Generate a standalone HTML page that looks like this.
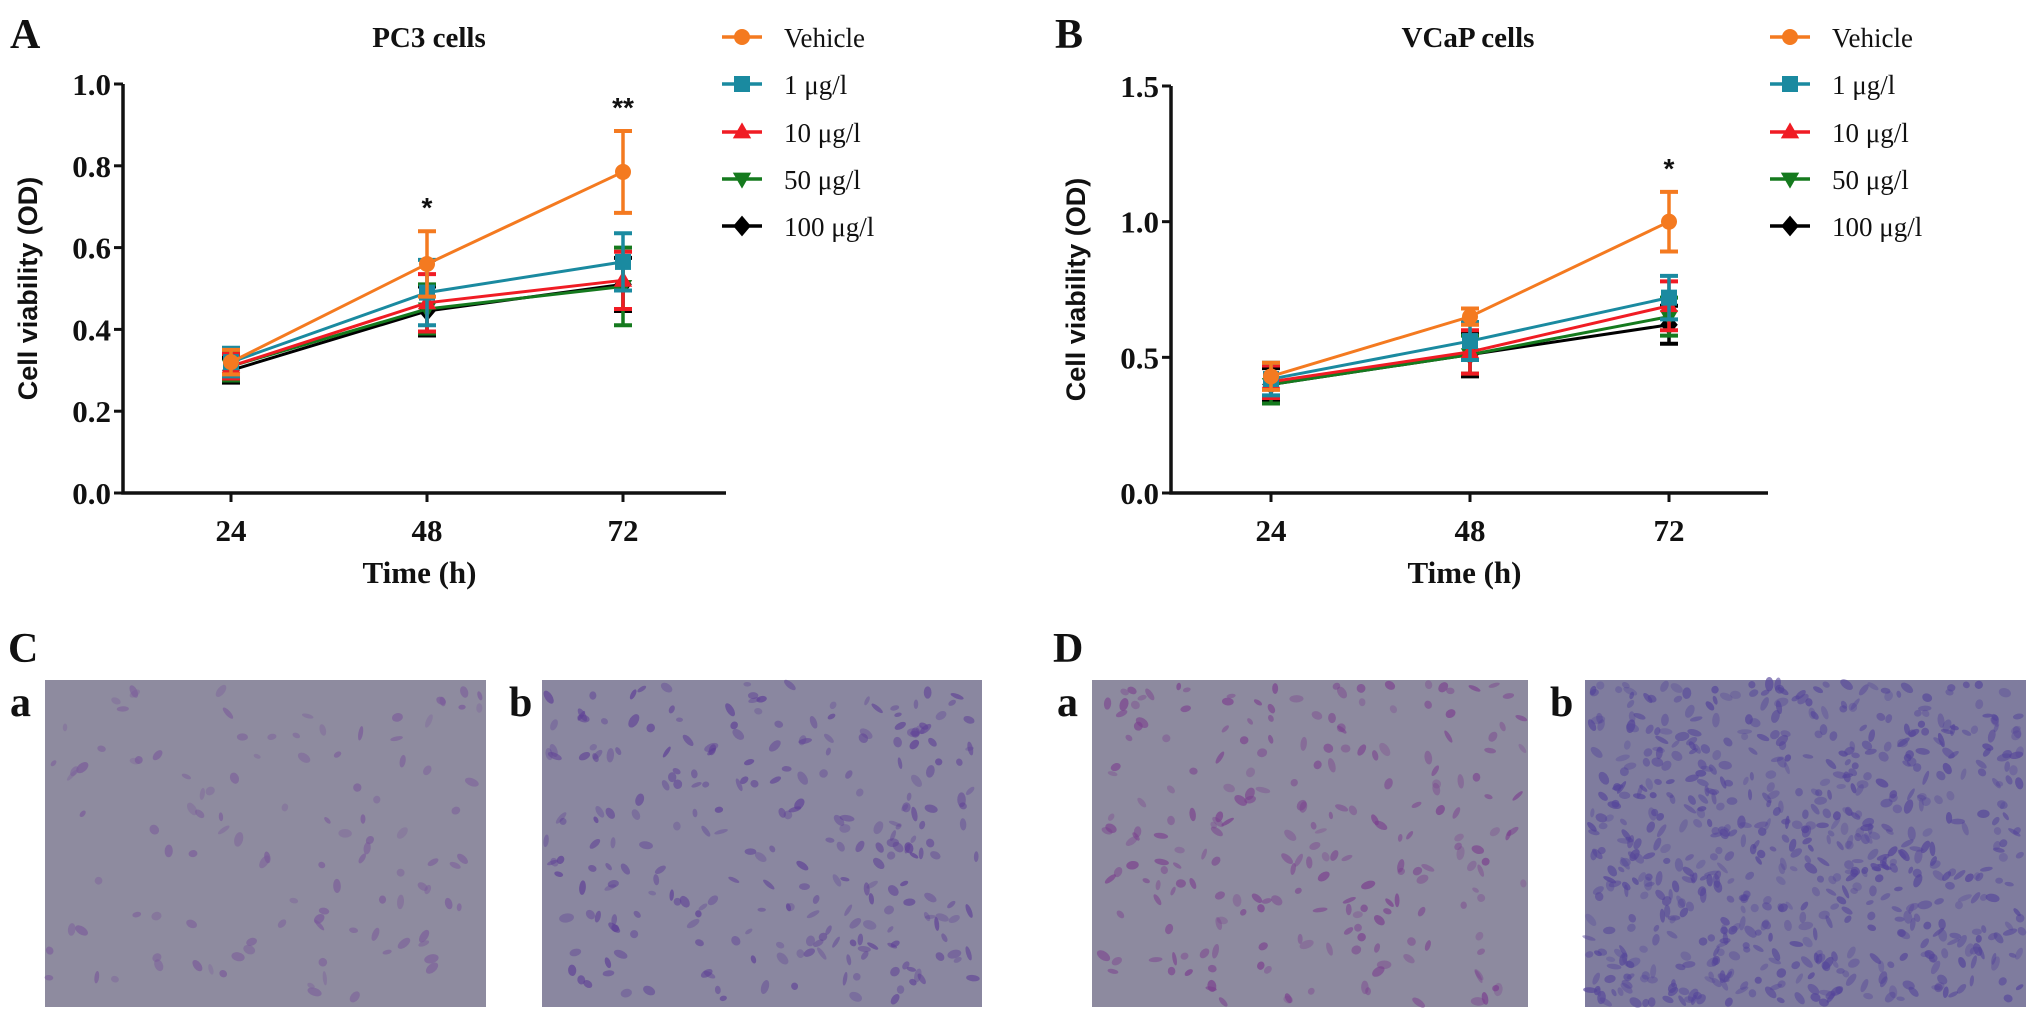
<!DOCTYPE html>
<html><head><meta charset="utf-8">
<style>
html,body{margin:0;padding:0;background:#fff;}
svg{display:block;}
text{font-family:"Liberation Serif",serif;font-weight:bold;fill:#111;}
</style></head>
<body>
<svg id="fig" width="2033" height="1015" viewBox="0 0 2033 1015" xmlns="http://www.w3.org/2000/svg">
<g id="chartA"></g>
<g id="chartB"></g>
<g id="micro"></g>
</svg>
<script>
const categories = [24, 48, 72];
const seriesNames = ["Vehicle", "1 μg/l", "10 μg/l", "50 μg/l", "100 μg/l"];
const pc3Means = [
  [0.32, 0.56, 0.785],
  [0.32, 0.49, 0.565],
  [0.31, 0.465, 0.52],
  [0.31, 0.45, 0.505],
  [0.30, 0.445, 0.51]
];
const pc3Err = [
  [0.03, 0.08, 0.10],
  [0.035, 0.08, 0.07],
  [0.03, 0.07, 0.07],
  [0.035, 0.06, 0.095],
  [0.03, 0.06, 0.065]
];
const vcapMeans = [
  [0.43, 0.65, 1.0],
  [0.42, 0.56, 0.72],
  [0.41, 0.52, 0.69],
  [0.40, 0.51, 0.65],
  [0.40, 0.51, 0.62]
];
const vcapErr = [
  [0.05, 0.03, 0.11],
  [0.06, 0.07, 0.08],
  [0.06, 0.08, 0.09],
  [0.07, 0.07, 0.07],
  [0.06, 0.08, 0.07]
];
const pc3Ticks = ["0.0","0.2","0.4","0.6","0.8","1.0"];
const vcapTicks = ["0.0","0.5","1.0","1.5"];
const pc3Stars = [null, "*", "**"];
const vcapStars = [null, null, "*"];

const NS = "http://www.w3.org/2000/svg";
const colors = ["#f47a20", "#1a8aa0", "#f01c24", "#157a1e", "#000000"];
const shapes = ["circle", "square", "tri", "tridown", "diamond"];

function mk(parent, tag, attrs, txt){
  const e = document.createElementNS(NS, tag);
  for (const k in attrs) e.setAttribute(k, attrs[k]);
  if (txt !== undefined) e.textContent = txt;
  parent.appendChild(e);
  return e;
}
function marker(g, shape, cx, cy, r, col){
  let e;
  if (shape === "circle") e = mk(g, "circle", {cx:cx, cy:cy, r:r, fill:col});
  else if (shape === "square") e = mk(g, "rect", {x:cx-r, y:cy-r, width:2*r, height:2*r, fill:col});
  else if (shape === "tri") e = mk(g, "polygon", {points:`${cx},${cy-r*1.2} ${cx-r*1.15},${cy+r*0.8} ${cx+r*1.15},${cy+r*0.8}`, fill:col});
  else if (shape === "tridown") e = mk(g, "polygon", {points:`${cx},${cy+r*1.2} ${cx-r*1.15},${cy-r*0.8} ${cx+r*1.15},${cy-r*0.8}`, fill:col});
  else e = mk(g, "polygon", {points:`${cx},${cy-r*1.3} ${cx+r*1.1},${cy} ${cx},${cy+r*1.3} ${cx-r*1.1},${cy}`, fill:col});
  return e;
}

function drawChart(g, cfg){
  const yScale = v => cfg.y0 - (v / cfg.ymax) * (cfg.y0 - cfg.y1);
  const xScale = i => cfg.xs[0] + i * (cfg.xs[1] - cfg.xs[0]);
  let t = mk(g, "text", {x:cfg.letterX, y:48, "font-size":42}, cfg.letter);
  
  
  t = mk(g, "text", {x:cfg.titleX, y:47, "font-size":29, "text-anchor":"middle"}, cfg.title);
  
  
  const ax = mk(g, "path", {d:`M${cfg.ax} ${cfg.y1} V${cfg.y0} H${cfg.xEnd}`, stroke:"#111", "stroke-width":3.5, fill:"none"});
  
  
  cfg.ticks.forEach((lab, i) => {
    const v = i * cfg.ymax / (cfg.ticks.length - 1);
    const y = yScale(v);
    mk(g, "line", {x1:cfg.ax-9, x2:cfg.ax, y1:y, y2:y, stroke:"#111", "stroke-width":3});
    const tl = mk(g, "text", {x:cfg.ax-12, y:y+11, "font-size":31, "text-anchor":"end"}, lab);
    
    
  });
  categories.forEach((c, i) => {
    const x = xScale(i);
    mk(g, "line", {x1:x, x2:x, y1:cfg.y0, y2:cfg.y0+9, stroke:"#111", "stroke-width":3});
    const tl = mk(g, "text", {x:x, y:cfg.y0+48, "font-size":31, "text-anchor":"middle"}, String(c));
    
    
  });
  t = mk(g, "text", {x:(cfg.ax+cfg.xEnd)/2 - 5, y:cfg.y0+90, "font-size":31, "text-anchor":"middle"}, "Time (h)");
  
  
  t = mk(g, "text", {x:0, y:0, "font-size":27, "text-anchor":"middle", transform:`translate(${cfg.ax-86},${(cfg.y0+cfg.y1)/2}) rotate(-90)`, style:"font-family:'Liberation Sans',sans-serif;font-weight:bold"}, "Cell viability (OD)");
  
  
  for (let s = seriesNames.length - 1; s >= 0; s--){
    const sg = mk(g, "g", {});
    
    
    const col = colors[s];
    const pts = cfg.means[s].map((v, i) => `${xScale(i)},${yScale(v)}`).join(" ");
    mk(sg, "polyline", {points:pts, stroke:col, "stroke-width":3, fill:"none"});
    cfg.means[s].forEach((v, i) => {
      const x = xScale(i), e = cfg.err[s][i];
      const yt = yScale(v + e), yb = yScale(v - e);
      mk(sg, "line", {x1:x, x2:x, y1:yt, y2:yb, stroke:col, "stroke-width":3.5});
      mk(sg, "line", {x1:x-9, x2:x+9, y1:yt, y2:yt, stroke:col, "stroke-width":4});
      mk(sg, "line", {x1:x-9, x2:x+9, y1:yb, y2:yb, stroke:col, "stroke-width":4});
      const m = marker(sg, shapes[s], x, yScale(v), 8, col);
      
      
    });
  }
  cfg.stars.forEach((st, i) => {
    if (!st) return;
    const top = cfg.means[0][i] + cfg.err[0][i];
    const s = mk(g, "text", {x:xScale(i), y:yScale(top) - 14, "font-size":28, "text-anchor":"middle", style:"font-family:'Liberation Sans',sans-serif;font-weight:bold"}, st);
    
    
  });
  const rows = [37, 84, 132, 179, 226];
  seriesNames.forEach((n, s) => {
    const lg = mk(g, "g", {});
    
    
    mk(lg, "line", {x1:cfg.legX-20, x2:cfg.legX+20, y1:rows[s], y2:rows[s], stroke:colors[s], "stroke-width":3.5});
    marker(lg, shapes[s], cfg.legX, rows[s], 8, colors[s]);
    mk(lg, "text", {x:cfg.legX+42, y:rows[s]+10, "font-size":27, style:"font-weight:normal"}, n);
  });
}

drawChart(document.getElementById("chartA"), {
  letter:"A", letterX:10, title:"PC3 cells", titleX:429,
  ax:123, xEnd:726, y0:493, y1:84, ymax:1.0, xs:[231, 427],
  ticks:pc3Ticks, means:pc3Means, err:pc3Err, stars:pc3Stars, legX:742
});
drawChart(document.getElementById("chartB"), {
  letter:"B", letterX:1055, title:"VCaP cells", titleX:1468,
  ax:1171, xEnd:1768, y0:493, y1:86, ymax:1.5, xs:[1271, 1470],
  ticks:vcapTicks, means:vcapMeans, err:vcapErr, stars:vcapStars, legX:1790
});

const mg = document.getElementById("micro");
const letters = [["C",8,662],["D",1053,662]];
letters.forEach(l => {
  const t = mk(mg, "text", {x:l[1], y:l[2], "font-size":42}, l[0]);
  
  
});
const imgs = [
  {x:45, w:441, lab:"a", lx:10, bg:"#8e8b9f", n:110, dot:"#7a5a9a"},
  {x:542, w:440, lab:"b", lx:509, bg:"#8a87a0", n:260, dot:"#5e3f96"},
  {x:1092, w:436, lab:"a", lx:1057, bg:"#8d8a9f", n:220, dot:"#7b3f8e"},
  {x:1585, w:441, lab:"b", lx:1550, bg:"#7f7c9e", n:700, dot:"#54449a"}
];
let seed = 7;
function rnd(){ seed = (seed * 16807) % 2147483647; return seed / 2147483647; }
imgs.forEach(im => {
  const g = mk(mg, "g", {});
  
  
  mk(g, "rect", {x:im.x, y:680, width:im.w, height:327, fill:im.bg});
  for (let i = 0; i < im.n; i++){
    const cx = im.x + 4 + rnd() * (im.w - 8), cy = 684 + rnd() * 319;
    mk(g, "ellipse", {cx:cx, cy:cy, rx:2 + rnd()*2.5, ry:3.5 + rnd()*4, fill:im.dot, opacity:0.3 + rnd()*0.4,
      transform:`rotate(${Math.round(rnd()*180)} ${cx.toFixed(1)} ${cy.toFixed(1)})`});
  }
  const t = mk(mg, "text", {x:im.lx, y:716, "font-size":42}, im.lab);
  
  
});
</script>
</body></html>
